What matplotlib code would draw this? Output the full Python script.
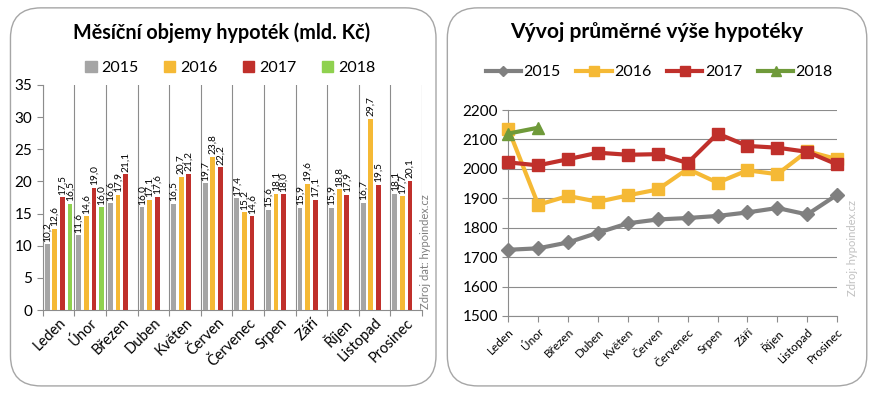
import numpy as np
import matplotlib.pyplot as plt
from matplotlib.patches import FancyBboxPatch, Patch
from matplotlib.lines import Line2D

plt.rcParams['font.family'] = ['Lato', 'DejaVu Sans']

months = ['Leden', 'Únor', 'Březen', 'Duben', 'Květen', 'Červen', 'Červenec',
          'Srpen', 'Září', 'Říjen', 'Listopad', 'Prosinec']
years = ['2015', '2016', '2017', '2018']

# objemy hypotek (mld. Kc)
vol_2015 = [10.2, 11.6, 16.6, 16.0, 16.5, 19.7, 17.4, 15.6, 15.9, 15.9, 16.7, 18.1]
vol_2016 = [12.6, 14.6, 17.9, 17.1, 20.7, 23.8, 15.2, 18.1, 19.6, 18.8, 29.7, 17.7]
vol_2017 = [17.5, 19.0, 21.1, 17.6, 21.2, 22.2, 14.6, 18.0, 17.1, 17.9, 19.5, 20.1]
vol_2018 = [16.5, 16.0]

# prumerna vyse hypoteky (tis. Kc)
avg_2015 = [1725, 1730, 1750, 1783, 1815, 1828, 1833, 1840, 1852, 1867, 1845, 1912]
avg_2016 = [2135, 1878, 1908, 1888, 1910, 1930, 2000, 1953, 1995, 1982, 2060, 2033]
avg_2017 = [2022, 2012, 2033, 2055, 2048, 2050, 2020, 2120, 2078, 2072, 2058, 2015]
avg_2018 = [2120, 2140]

bar_cols = ['#a5a5a5', '#f5b935', '#c0302b', '#8fd14f']
line_cols = ['#808080', '#f5b935', '#c0302b', '#6f9a3a']
markers = ['D', 's', 's', '^']
grid_c = '#8c8c8c'

fig = plt.figure(figsize=(8.72, 3.93), dpi=100)

# panel frames
for x0, w in [(0.012, 0.488), (0.513, 0.481)]:
    fig.patches.append(FancyBboxPatch((x0, 0.018), w, 0.962,
                                      boxstyle='round,pad=0,rounding_size=0.035',
                                      transform=fig.transFigure, fc='white',
                                      ec='#a6a6a6', lw=1.0, mutation_aspect=2.2,
                                      zorder=-5))

# ---- left: bar chart ----
ax1 = fig.add_axes([0.049, 0.211, 0.435, 0.573])
ax1.set_facecolor('none')
x = np.arange(len(months))
vols = [vol_2015, vol_2016, vol_2017, vol_2018]
offs = [-0.36, -0.12, 0.12, 0.36]
for i, v in enumerate(vols):
    xs = x[:len(v)] + offs[i]
    ax1.bar(xs, v, width=0.15, color=bar_cols[i], zorder=3)
    for xx, vv in zip(xs, v):
        ax1.text(xx, vv + 0.4, ('%.1f' % vv).replace('.', ','), rotation=90,
                 ha='center', va='bottom', fontsize=7.3, zorder=4)
ax1.set_xlim(-0.5, 11.5)
ax1.set_ylim(0, 35)
ax1.set_yticks(range(0, 36, 5))
ax1.set_xticks(np.arange(-0.5, 12, 1), minor=False)
ax1.set_xticklabels([])
ax1.set_xticks(x, minor=True)
ax1.set_xticklabels(months, minor=True, rotation=45, ha='right',
                    rotation_mode='anchor', fontsize=10.5)
ax1.tick_params(axis='x', which='minor', length=0, pad=4)
ax1.tick_params(axis='x', which='major', length=4, color=grid_c, direction='out')
ax1.tick_params(axis='y', length=4, color=grid_c, labelsize=11)
ax1.grid(axis='x', which='major', color=grid_c, lw=0.8, zorder=0)
for s in ['top', 'right']:
    ax1.spines[s].set_visible(False)
for s in ['left', 'bottom']:
    ax1.spines[s].set_color(grid_c)
fig.text(0.254, 0.918, 'Měsíční objemy hypoték (mld. Kč)', ha='center',
         va='center', fontsize=14.2, fontweight='bold')
fig.legend([Patch(color=c) for c in bar_cols], years, loc='center',
           bbox_to_anchor=(0.264, 0.826), ncol=4, frameon=False, fontsize=11.5,
           handlelength=0.7, handleheight=0.7, handletextpad=0.3, columnspacing=1.6)
fig.text(0.488, 0.36, 'Zdroj dat: hypoindex.cz', rotation=90, ha='center',
         va='center', fontsize=8, color='#7f7f7f')

# ---- right: line chart ----
ax2 = fig.add_axes([0.583, 0.196, 0.377, 0.524])
ax2.set_facecolor('none')
avgs = [avg_2015, avg_2016, avg_2017, avg_2018]
msz = [7, 9, 9, 9]
for i, v in enumerate(avgs):
    ax2.plot(x[:len(v)], v, color=line_cols[i], lw=3, marker=markers[i],
             ms=msz[i], zorder=3 + i, clip_on=False)
ax2.set_xlim(0, 11)
ax2.set_ylim(1500, 2200)
ax2.set_yticks(range(1500, 2201, 100))
ax2.set_xticks(x)
ax2.set_xticklabels(months, rotation=45, ha='right', rotation_mode='anchor',
                    fontsize=8.5)
ax2.tick_params(axis='x', length=4, color=grid_c)
ax2.tick_params(axis='y', length=4, color=grid_c, labelsize=11)
ax2.grid(axis='y', color=grid_c, lw=0.8, zorder=0)
for s in ['top', 'right']:
    ax2.spines[s].set_visible(False)
for s in ['left', 'bottom']:
    ax2.spines[s].set_color(grid_c)
fig.text(0.753, 0.918, 'Vývoj průměrné výše hypotéky', ha='center',
         va='center', fontsize=15.2, fontweight='bold')
handles = [Line2D([], [], color=line_cols[i], lw=3, marker=markers[i], ms=msz[i] - 2)
           for i in range(4)]
fig.legend(handles, years, loc='center', bbox_to_anchor=(0.756, 0.816), ncol=4,
           frameon=False, fontsize=11.5, handlelength=2.2, handletextpad=0.15,
           columnspacing=1.0)
fig.text(0.978, 0.37, 'Zdroj: hypoindex.cz', rotation=90, ha='center',
         va='center', fontsize=8, color='#c0c0c0')

plt.savefig('out.png', dpi=100)
